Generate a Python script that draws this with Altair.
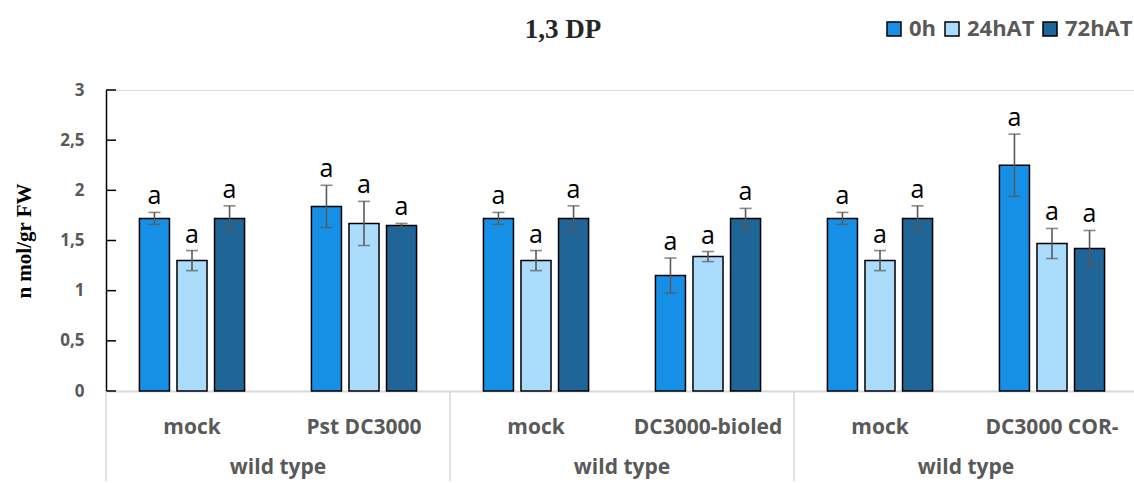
import json
import altair as alt
import pandas as pd

# ---- chart data -------------------------------------------------------------
title_text = "1,3 DP"
y_title = "n mol/gr FW"
treatments = ["mock", "Pst DC3000", "mock", "DC3000-bioled", "mock", "DC3000 COR-"]
genotype = "wild type"
genotype_start = [0, 2, 4]          # first treatment slot of each genotype block
series = ["0h", "24hAT", "72hAT"]
colors = ["#1690e6", "#abdcfb", "#1f6597"]

mean_0h = [1.72, 1.84, 1.72, 1.15, 1.72, 2.25]
err_0h = [0.06, 0.21, 0.06, 0.175, 0.06, 0.31]
mean_24h = [1.30, 1.67, 1.30, 1.34, 1.30, 1.47]
err_24h = [0.10, 0.22, 0.10, 0.05, 0.10, 0.15]
mean_72h = [1.72, 1.65, 1.72, 1.72, 1.72, 1.42]
err_72h = [0.125, 0.02, 0.125, 0.10, 0.125, 0.18]
letters_0h = ["a", "a", "a", "a", "a", "a"]
letters_24h = ["a", "a", "a", "a", "a", "a"]
letters_72h = ["a", "a", "a", "a", "a", "a"]

y_ticks = [0, 0.5, 1, 1.5, 2, 2.5, 3]

# ---- tables -----------------------------------------------------------------
rows = []
for name, means, errs, lets in [
    ("0h", mean_0h, err_0h, letters_0h),
    ("24hAT", mean_24h, err_24h, letters_24h),
    ("72hAT", mean_72h, err_72h, letters_72h),
]:
    for i in range(len(treatments)):
        rows.append({"slot": i, "series": name, "value": means[i],
                     "err": errs[i], "sig": lets[i]})
df = pd.DataFrame(rows)
ticks_df = pd.DataFrame({"t": y_ticks})
groups_df = pd.DataFrame({"slot": genotype_start, "label": [genotype] * len(genotype_start)})
title_df = pd.DataFrame({"label": [title_text]})

# ---- layout -----------------------------------------------------------------
W, H = 1028, 301
PAD_L, PAD_T, PAD_B = 106, 90, 90
LABEL_FONT = "Open Sans"
GREY = "#595959"

label_array = json.dumps(treatments)

x_scale = alt.Scale(domain=list(range(len(treatments))), range=[0, 1032],
                    paddingInner=0, paddingOuter=0)
x_enc = alt.X(
    "slot:O", scale=x_scale, title=None,
    axis=alt.Axis(
        labelExpr=f"{label_array}[datum.value]",
        labelAngle=0, labelFont=LABEL_FONT, labelFontSize=21,
        labelFontWeight="bold", labelColor=GREY, labelBaseline="middle",
        labelPadding=36, ticks=False, domainColor="#d9d9d9", domainWidth=2,
        grid=False,
    ),
)
y_scale = alt.Scale(domain=[0, 3], nice=False, zero=True)
y_enc = alt.Y(
    "value:Q", scale=y_scale, title=y_title,
    axis=alt.Axis(
        values=y_ticks, grid=False, ticks=False, domainColor="black",
        domainWidth=1.5,
        labelExpr="replace(toString(datum.value), '.', ',')",
        labelFont=LABEL_FONT, labelFontSize=17, labelFontWeight="bold",
        labelColor=GREY, labelPadding=22,
        titleFont="Liberation Serif", titleFontSize=21, titleFontWeight="bold",
        titleColor="black", titlePadding=25,
    ),
)
xoff = alt.XOffset("series:N", sort=series,
                   scale=alt.Scale(domain=series, paddingInner=0.2, paddingOuter=0.89))

color = alt.Color(
    "series:N", sort=series,
    scale=alt.Scale(domain=series, range=colors),
    legend=alt.Legend(
        title=None, orient="none", legendX=777, legendY=-72,
        direction="horizontal", symbolType="square", symbolSize=196,
        symbolStrokeColor="black", symbolStrokeWidth=1.5,
        labelFont=LABEL_FONT, labelFontSize=22, labelFontWeight="bold",
        labelColor=GREY, labelOffset=4, columnPadding=4, padding=0,
    ),
)

base = alt.Chart(df).transform_calculate(
    lo="datum.value - datum.err", hi="datum.value + datum.err"
)

bars = base.mark_bar(stroke="black", strokeWidth=1.5).encode(
    x=x_enc, xOffset=xoff, y=y_enc, color=color
)
err_rule = base.mark_rule(color=GREY, strokeWidth=1.6).encode(
    x=x_enc, xOffset=xoff, y=alt.Y("lo:Q", scale=y_scale), y2="hi:Q"
)
cap_lo = base.mark_tick(color=GREY, size=12, thickness=1.6).encode(
    x=x_enc, xOffset=xoff, y=alt.Y("lo:Q", scale=y_scale)
)
cap_hi = base.mark_tick(color=GREY, size=12, thickness=1.6).encode(
    x=x_enc, xOffset=xoff, y=alt.Y("hi:Q", scale=y_scale)
)
letters = base.mark_text(font=LABEL_FONT, fontSize=25, color="black",
                         baseline="alphabetic", dy=-8).encode(
    x=x_enc, xOffset=xoff, y=alt.Y("hi:Q", scale=y_scale), text="sig:N"
)

# inward tick marks on the value axis
y_marks = alt.Chart(ticks_df).mark_rule(color="black", strokeWidth=1.5).encode(
    y=alt.Y("t:Q", scale=y_scale), x=alt.value(0), x2=alt.value(10)
)

# block separators under the category axis
separators = alt.Chart(groups_df).mark_rule(color="#d9d9d9", strokeWidth=1.5).encode(
    x=alt.X("slot:O", scale=x_scale, bandPosition=0),
    y=alt.value(H), y2=alt.value(H + PAD_B),
)
group_text = alt.Chart(groups_df).mark_text(
    font=LABEL_FONT, fontSize=21, fontWeight="bold", color=GREY,
    baseline="alphabetic",
).encode(
    x=alt.X("slot:O", scale=x_scale, bandPosition=1),
    y=alt.value(H + 83), text="label:N",
)

# chart heading, placed above the plot area
heading = alt.Chart(title_df).mark_text(
    font="Liberation Serif", fontSize=27, fontWeight="bold", color="#262626",
    baseline="alphabetic", align="center",
).encode(x=alt.value(457), y=alt.value(-52), text="label:N")

chart = alt.layer(
    bars, err_rule, cap_lo, cap_hi, letters, y_marks, separators, group_text, heading
).properties(
    width=W, height=H,
    autosize=alt.AutoSizeParams(type="none"),
    padding={"left": PAD_L, "top": PAD_T, "right": 0, "bottom": PAD_B},
).configure_view(stroke=None).configure(background="white")

chart.save("out.html", embed_options={"renderer": "svg", "actions": False})
